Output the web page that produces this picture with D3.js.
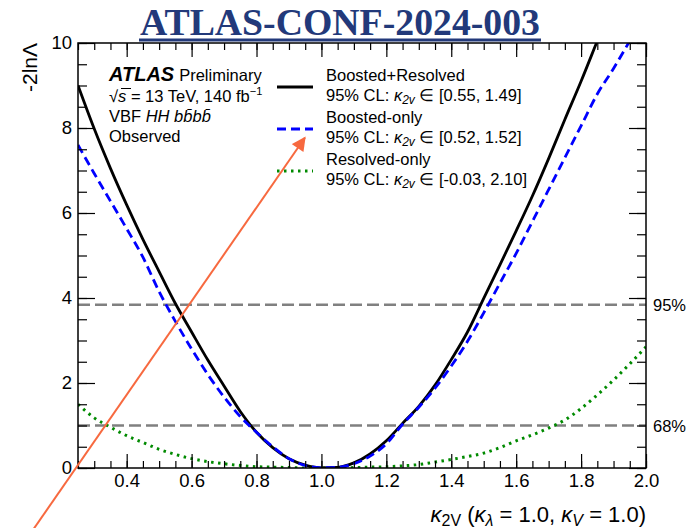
<!DOCTYPE html>
<html>
<head>
<meta charset="utf-8">
<script src="https://cdn.jsdelivr.net/npm/d3@7"></script>
<style>
  body { margin: 0; background: #fff; }
  svg { font-family: 'Liberation Sans', Arial, sans-serif; }
</style>
</head>
<body>
<div id="chart"></div>
<script>
// kappa_2V scan points
const k2v = [0.25, 0.30, 0.35, 0.40, 0.45, 0.50, 0.55, 0.60, 0.65, 0.70, 0.75, 0.80, 0.85, 0.90, 0.95, 1.00,
             1.05, 1.10, 1.15, 1.20, 1.25, 1.30, 1.35, 1.40, 1.45, 1.50, 1.55, 1.60, 1.65, 1.70, 1.75, 1.80,
             1.85, 1.90, 1.95, 2.00];
const combined = [9.00, 7.98, 7.05, 6.19, 5.38, 4.62, 3.87, 3.20, 2.54, 1.93, 1.33, 0.84, 0.48, 0.22, 0.07, 0.005,
                  0.015, 0.12, 0.33, 0.64, 1.05, 1.45, 1.95, 2.55, 3.20, 3.99, 4.78, 5.58, 6.40, 7.28, 8.20, 9.10,
                  10.05, 11.0, 12.0, 13.0];
const boosted = [7.60, 6.93, 6.28, 5.63, 4.96, 4.15, 3.45, 2.80, 2.20, 1.67, 1.21, 0.84, 0.50, 0.22, 0.06, 0.005,
                 0.015, 0.10, 0.28, 0.57, 1.03, 1.43, 1.88, 2.40, 2.98, 3.65, 4.35, 5.05, 5.80, 6.55, 7.30, 8.05,
                 8.80, 9.40, 10.05, 10.7];
const resolved = [1.50, 1.18, 0.96, 0.76, 0.60, 0.44, 0.32, 0.22, 0.15, 0.10, 0.06, 0.03, 0.02, 0.01, 0.00, 0.00,
                  0.00, 0.01, 0.02, 0.03, 0.05, 0.08, 0.14, 0.20, 0.27, 0.35, 0.48, 0.64, 0.78, 0.94, 1.13, 1.40,
                  1.72, 2.07, 2.45, 2.85];
const clLevels = [3.84, 1];
const clLabels = ['95%', '68%'];
const xTicks = [0.4, 0.6, 0.8, 1.0, 1.2, 1.4, 1.6, 1.8, 2.0];
const yTicks = [0, 2, 4, 6, 8, 10];
const legendNames = ['Boosted+Resolved', 'Boosted-only', 'Resolved-only'];
const legendIntervals = ['[0.55, 1.49]', '[0.52, 1.52]', '[-0.03, 2.10]'];

const width = 688, height = 528;
const m = { left: 78, right: 42, top: 43, bottom: 60 };
const W = width - m.left - m.right, H = height - m.top - m.bottom;

const svg = d3.select('#chart').append('svg')
  .attr('width', width).attr('height', height);

const x = d3.scaleLinear().domain([0.25, 2.0]).range([m.left, m.left + W]);
const y = d3.scaleLinear().domain([0, 10]).range([m.top + H, m.top]);

// title
const navy = '#22397a';
svg.append('text')
  .attr('x', 340).attr('y', 35)
  .attr('text-anchor', 'middle')
  .attr('font-family', "'Liberation Serif', 'Times New Roman', serif")
  .attr('font-weight', 'bold')
  .attr('font-size', 37)
  .attr('fill', navy)
  .attr('textLength', 400).attr('lengthAdjust', 'spacingAndGlyphs')
  .text('ATLAS-CONF-2024-003');
svg.append('line')
  .attr('x1', 139).attr('x2', 541).attr('y1', 40).attr('y2', 40)
  .attr('stroke', navy).attr('stroke-width', 3);

svg.append('defs').append('clipPath').attr('id', 'plotclip')
  .append('rect').attr('x', m.left).attr('y', m.top).attr('width', W).attr('height', H);

// CL reference lines
svg.selectAll('.cl').data(clLevels).enter().append('line')
  .attr('x1', x(0.25)).attr('x2', x(2.0))
  .attr('y1', d => y(d)).attr('y2', d => y(d))
  .attr('stroke', '#808080').attr('stroke-width', 2.5)
  .attr('stroke-dasharray', '12,5');

svg.selectAll('.cllab').data(clLevels).enter().append('text')
  .attr('x', x(2.0) + 7).attr('y', d => y(d) + 6)
  .attr('font-size', 16.5)
  .text((d, i) => clLabels[i]);

// curves
const line = vals => d3.line()
  .x((d, i) => x(k2v[i]))
  .y(d => y(d))
  .curve(d3.curveMonotoneX)(vals);

const series = [
  { vals: resolved, color: '#008a00', width: 3, dash: '2.5,4.5' },
  { vals: combined, color: '#000', width: 2.8, dash: null },
  { vals: boosted, color: '#0000ff', width: 2.8, dash: '9,5' }
];

const g = svg.append('g').attr('clip-path', 'url(#plotclip)');
g.selectAll('path').data(series).enter().append('path')
  .attr('d', d => line(d.vals))
  .attr('fill', 'none')
  .attr('stroke', d => d.color)
  .attr('stroke-width', d => d.width)
  .attr('stroke-dasharray', d => d.dash);

// axes with inside ticks, ROOT style
function addAxis(axisFn, scale, vals, size, transform, labels) {
  const a = axisFn(scale).tickValues(vals).tickSizeInner(-size).tickSizeOuter(0);
  if (labels) a.tickFormat(labels).tickPadding(6); else a.tickFormat('');
  const ax = svg.append('g').attr('transform', transform).call(a);
  ax.select('.domain').remove();
  ax.selectAll('line').attr('stroke', '#000').attr('stroke-width', 1.2);
  ax.selectAll('text').attr('font-size', 18.5).attr('fill', '#000')
    .attr('font-family', "'Liberation Sans', Arial, sans-serif");
  return ax;
}
const xMinor = d3.range(0.25, 2.0001, 0.05);
const yMinor = d3.range(0, 10.001, 0.5);

addAxis(d3.axisBottom, x, xMinor, 7, `translate(0,${m.top + H})`);
addAxis(d3.axisBottom, x, xTicks, 14, `translate(0,${m.top + H})`, d3.format('.1f'));
addAxis(d3.axisTop, x, xMinor, 7, `translate(0,${m.top})`);
addAxis(d3.axisTop, x, xTicks, 14, `translate(0,${m.top})`);
addAxis(d3.axisLeft, y, yMinor, 9, `translate(${m.left},0)`);
addAxis(d3.axisLeft, y, yTicks, 17, `translate(${m.left},0)`, d3.format('d'));
addAxis(d3.axisRight, y, yMinor, 9, `translate(${m.left + W},0)`);
addAxis(d3.axisRight, y, yTicks, 17, `translate(${m.left + W},0)`);

svg.append('rect')
  .attr('x', m.left).attr('y', m.top).attr('width', W).attr('height', H)
  .attr('fill', 'none').attr('stroke', '#000').attr('stroke-width', 1.5);

// axis titles
svg.append('text')
  .attr('transform', `translate(37,${m.top}) rotate(-90)`)
  .attr('text-anchor', 'end')
  .attr('font-size', 21)
  .text('-2ln\u039B');

const xt = svg.append('text')
  .attr('x', x(2.0)).attr('y', 522)
  .attr('text-anchor', 'end')
  .attr('font-size', 22);
xt.append('tspan').attr('font-style', 'italic').text('\u03BA');
xt.append('tspan').attr('font-size', 16).attr('dy', 4).text('2V');
xt.append('tspan').attr('dy', -4).text(' (');
xt.append('tspan').attr('font-style', 'italic').text('\u03BA');
xt.append('tspan').attr('font-size', 16).attr('dy', 4).attr('font-style', 'italic').text('\u03BB');
xt.append('tspan').attr('dy', -4).text(' = 1.0,  ');
xt.append('tspan').attr('font-style', 'italic').text('\u03BA');
xt.append('tspan').attr('font-size', 16).attr('dy', 4).attr('font-style', 'italic').text('V');
xt.append('tspan').attr('dy', -4).text(' = 1.0)');

// ATLAS label block
const t1 = svg.append('text').attr('x', 109).attr('y', 81);
t1.append('tspan').attr('font-weight', 'bold').attr('font-style', 'italic').attr('font-size', 20).text('ATLAS');
t1.append('tspan').attr('font-size', 16.5).attr('dx', 5).text('Preliminary');

const t2 = svg.append('text').attr('x', 109).attr('y', 102).attr('font-size', 16.5);
t2.append('tspan').text('\u221A');
t2.append('tspan').attr('font-style', 'italic').text('s');
t2.append('tspan').text(' = 13 TeV, 140 fb');
t2.append('tspan').attr('font-size', 11).attr('dy', -7).text('\u22121');
svg.append('line').attr('x1', 121).attr('x2', 131).attr('y1', 88.5).attr('y2', 88.5)
  .attr('stroke', '#000').attr('stroke-width', 1);

const t3 = svg.append('text').attr('x', 109).attr('y', 122).attr('font-size', 16.5);
t3.append('tspan').text('VBF ');
t3.append('tspan').attr('font-style', 'italic').text('HH b\u0062\u0304b\u0062\u0304');
svg.append('text').attr('x', 109).attr('y', 142).attr('font-size', 16.5).text('Observed');

// legend
const lg = svg.append('g');
const legendSeries = [series[1], series[2], series[0]];
legendSeries.forEach((s, i) => {
  const yy = 87 + i * 42;
  lg.append('line')
    .attr('x1', 277).attr('x2', 313).attr('y1', yy).attr('y2', yy)
    .attr('stroke', s.color).attr('stroke-width', s.width)
    .attr('stroke-dasharray', s.dash);
  lg.append('text').attr('x', 326).attr('y', 81 + i * 42).attr('font-size', 16.5).text(legendNames[i]);
  const t = lg.append('text').attr('x', 326).attr('y', 101 + i * 42).attr('font-size', 16.5);
  t.append('tspan').text('95% CL: ');
  t.append('tspan').attr('font-style', 'italic').text('\u03BA');
  t.append('tspan').attr('font-size', 12).attr('dy', 3).attr('font-style', 'italic').text('2v');
  t.append('tspan').attr('dy', -3).text(' \u2208 ' + legendIntervals[i]);
});

// annotation arrow
const arrowColor = '#f7693f';
svg.select('defs').append('marker')
  .attr('id', 'head').attr('viewBox', '0 0 10 10')
  .attr('refX', 9).attr('refY', 5)
  .attr('markerWidth', 8).attr('markerHeight', 7)
  .attr('markerUnits', 'strokeWidth')
  .attr('orient', 'auto')
  .append('path').attr('d', 'M0,0 L10,5 L0,10 Z').attr('fill', arrowColor);
svg.append('line')
  .attr('x1', x(0.111)).attr('y1', y(-1.46))
  .attr('x2', x(0.949)).attr('y2', y(7.77))
  .attr('stroke', arrowColor).attr('stroke-width', 2)
  .attr('marker-end', 'url(#head)');
</script>
</body>
</html>
